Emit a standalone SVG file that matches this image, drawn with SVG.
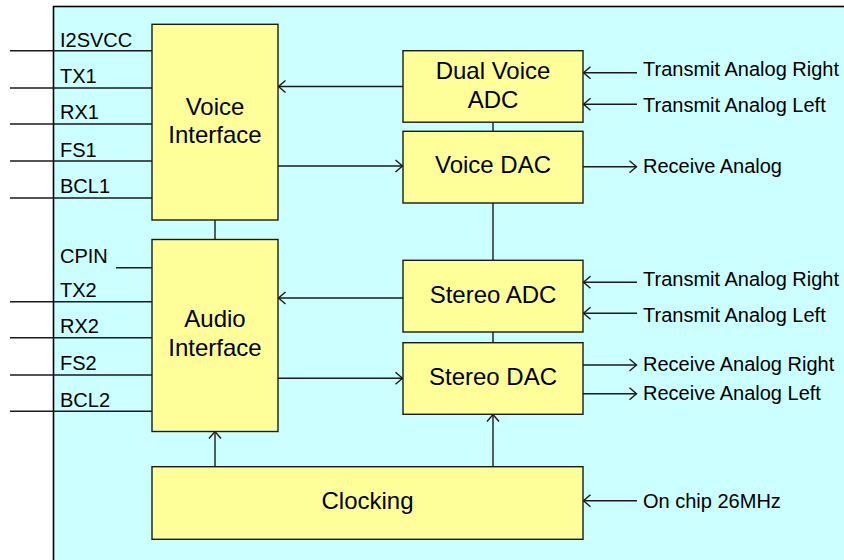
<svg xmlns="http://www.w3.org/2000/svg" width="844" height="560" viewBox="0 0 844 560">
<style>
.box{fill:#FFFF99;stroke:#1a1a1a;stroke-width:1.4}
.ln{stroke:#1a1a1a;stroke-width:1.4;fill:none}
.bt{font-family:"Liberation Sans",Arial,sans-serif;font-size:24px;fill:#000;text-anchor:middle}
.lb{font-family:"Liberation Sans",Arial,sans-serif;font-size:20px;fill:#000}
</style>
<defs>
<marker id="arr" markerUnits="userSpaceOnUse" markerWidth="12" markerHeight="14" viewBox="-8 -7 10 14" refX="0" refY="0" orient="auto">
<path d="M-7,-6 L0,0 L-7,6" fill="none" stroke="#1a1a1a" stroke-width="1.4"/>
</marker>
</defs>
<rect x="53.5" y="6.5" width="800" height="560" fill="#CCFFFF" stroke="#000" stroke-width="1.6"/>
<g id="connectors">
<line class="ln" x1="10" y1="50.7" x2="152" y2="50.7"/>
<line class="ln" x1="10" y1="88" x2="152" y2="88"/>
<line class="ln" x1="10" y1="124" x2="152" y2="124"/>
<line class="ln" x1="10" y1="161" x2="152" y2="161"/>
<line class="ln" x1="10" y1="198" x2="152" y2="198"/>
<line class="ln" x1="116" y1="267.7" x2="152" y2="267.7"/>
<line class="ln" x1="10" y1="301.7" x2="152" y2="301.7"/>
<line class="ln" x1="10" y1="337.7" x2="152" y2="337.7"/>
<line class="ln" x1="10" y1="375" x2="152" y2="375"/>
<line class="ln" x1="10" y1="411.3" x2="152" y2="411.3"/>
<line class="ln" x1="215" y1="220" x2="215" y2="239.5"/>
<line class="ln" x1="403" y1="86.5" x2="278.5" y2="86.5" marker-end="url(#arr)"/>
<line class="ln" x1="278" y1="166" x2="402.5" y2="166" marker-end="url(#arr)"/>
<line class="ln" x1="403" y1="298" x2="278.5" y2="298" marker-end="url(#arr)"/>
<line class="ln" x1="278" y1="378.3" x2="402.5" y2="378.3" marker-end="url(#arr)"/>
<line class="ln" x1="493" y1="122" x2="493" y2="131"/>
<line class="ln" x1="493" y1="203" x2="493" y2="260"/>
<line class="ln" x1="493" y1="332" x2="493" y2="343"/>
<line class="ln" x1="493" y1="466.7" x2="493" y2="414.5" marker-end="url(#arr)"/>
<line class="ln" x1="215" y1="466.7" x2="215" y2="431.5" marker-end="url(#arr)"/>
<line class="ln" x1="637" y1="72.7" x2="583.5" y2="72.7" marker-end="url(#arr)"/>
<line class="ln" x1="637" y1="104.3" x2="583.5" y2="104.3" marker-end="url(#arr)"/>
<line class="ln" x1="583" y1="166.7" x2="636.5" y2="166.7" marker-end="url(#arr)"/>
<line class="ln" x1="637" y1="282.3" x2="583.5" y2="282.3" marker-end="url(#arr)"/>
<line class="ln" x1="637" y1="313.3" x2="583.5" y2="313.3" marker-end="url(#arr)"/>
<line class="ln" x1="583" y1="365" x2="636.5" y2="365" marker-end="url(#arr)"/>
<line class="ln" x1="583" y1="393.7" x2="636.5" y2="393.7" marker-end="url(#arr)"/>
<line class="ln" x1="637" y1="500.7" x2="583.5" y2="500.7" marker-end="url(#arr)"/>
</g>
<g id="voice-interface">
<rect class="box" x="152" y="24.3" width="126" height="195.7"/>
<text class="bt" x="215" y="115">Voice</text>
<text class="bt" x="215" y="143.3">Interface</text>
</g>
<g id="audio-interface">
<rect class="box" x="152" y="239.5" width="126" height="192"/>
<text class="bt" x="215" y="327.3">Audio</text>
<text class="bt" x="215" y="356">Interface</text>
</g>
<g id="dual-voice-adc">
<rect class="box" x="403" y="50.7" width="180" height="71.5"/>
<text class="bt" x="493" y="79">Dual Voice</text>
<text class="bt" x="493" y="107.7">ADC</text>
</g>
<g id="voice-dac">
<rect class="box" x="403" y="131.3" width="180" height="71.7"/>
<text class="bt" x="493" y="173.3">Voice DAC</text>
</g>
<g id="stereo-adc">
<rect class="box" x="403" y="260.3" width="180" height="71.7"/>
<text class="bt" x="493" y="303.3">Stereo ADC</text>
</g>
<g id="stereo-dac">
<rect class="box" x="403" y="342.7" width="180" height="71.6"/>
<text class="bt" x="493" y="385">Stereo DAC</text>
</g>
<g id="clocking">
<rect class="box" x="152" y="466.7" width="431" height="72.6"/>
<text class="bt" x="367.5" y="509">Clocking</text>
</g>
<g id="labels">
<text class="lb" x="60" y="46.7">I2SVCC</text>
<text class="lb" x="60" y="83.3">TX1</text>
<text class="lb" x="60" y="119.3">RX1</text>
<text class="lb" x="60" y="156.7">FS1</text>
<text class="lb" x="60" y="193.3">BCL1</text>
<text class="lb" x="60" y="263.3">CPIN</text>
<text class="lb" x="60" y="296.7">TX2</text>
<text class="lb" x="60" y="332.7">RX2</text>
<text class="lb" x="60" y="370">FS2</text>
<text class="lb" x="60" y="406.7">BCL2</text>
<text class="lb" x="643" y="76">Transmit Analog Right</text>
<text class="lb" x="643" y="111.5">Transmit Analog Left</text>
<text class="lb" x="643" y="173.3">Receive Analog</text>
<text class="lb" x="643" y="286">Transmit Analog Right</text>
<text class="lb" x="643" y="321.7">Transmit Analog Left</text>
<text class="lb" x="643" y="370.7">Receive Analog Right</text>
<text class="lb" x="643" y="400">Receive Analog Left</text>
<text class="lb" x="643" y="508.3">On chip 26MHz</text>
</g>
</svg>
